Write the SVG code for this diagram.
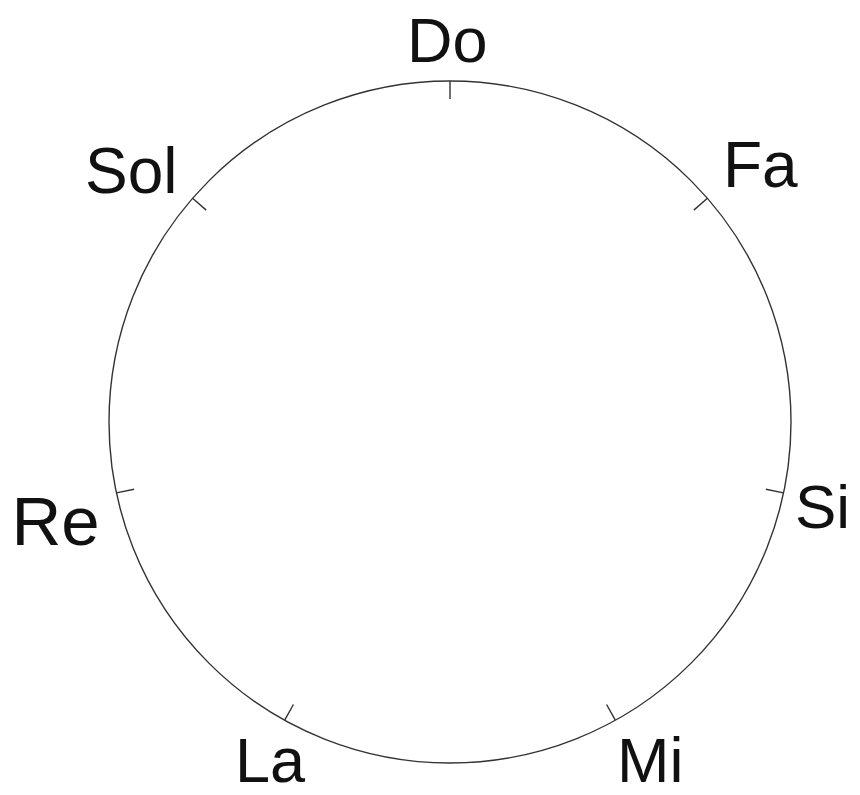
<svg xmlns="http://www.w3.org/2000/svg" width="860" height="795" viewBox="0 0 860 795">
<style>
.ring{fill:none;stroke:#333;stroke-width:1.4}
.tick{stroke:#333;stroke-width:1.4}
.lbl{font-family:"Liberation Sans",Arial,sans-serif;font-size:63px;fill:#111}
</style>
<rect width="860" height="795" fill="#fff"/>
<g id="circle"><circle class="ring" cx="450" cy="422" r="341"/></g>
<g id="connectors"></g>
<g id="do"><line class="tick" x1="450" y1="81" x2="450" y2="99"/><text class="lbl" x="407" y="62">Do</text></g>
<g id="fa"><line class="tick" x1="707.4" y1="198.3" x2="693.8" y2="210.1"/><text class="lbl" x="723" y="187" style="font-size:64px">Fa</text></g>
<g id="si"><line class="tick" x1="783.5" y1="492.9" x2="765.9" y2="489.2"/><text class="lbl" x="795" y="528" style="font-size:62px">Si</text></g>
<g id="mi"><line class="tick" x1="615.3" y1="720.2" x2="606.6" y2="704.5"/><text class="lbl" x="617" y="782">Mi</text></g>
<g id="la"><line class="tick" x1="284.7" y1="720.2" x2="293.4" y2="704.5"/><text class="lbl" x="235" y="782">La</text></g>
<g id="re"><line class="tick" x1="116.5" y1="492.9" x2="134.1" y2="489.2"/><text class="lbl" x="11.5" y="545" style="font-size:69px">Re</text></g>
<g id="sol"><line class="tick" x1="192.6" y1="198.3" x2="206.2" y2="210.1"/><text class="lbl" x="85" y="193" style="font-size:64px">Sol</text></g>
</svg>
